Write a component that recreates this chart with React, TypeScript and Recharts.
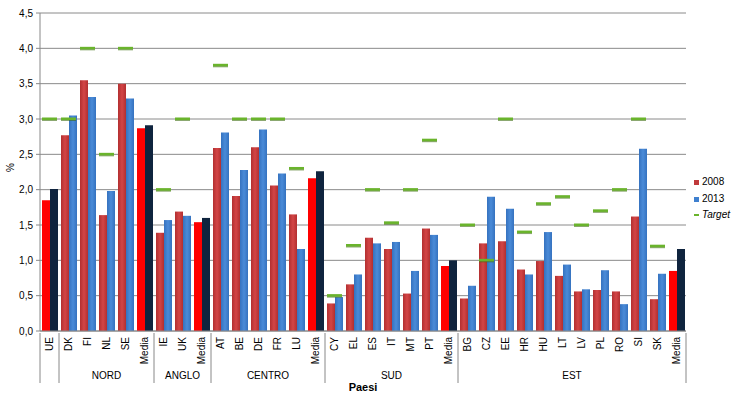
import React from 'react';
import { ComposedChart, Bar, Line, XAxis, YAxis, CartesianGrid, Cell } from 'recharts';

const categories = ['UE', 'DK', 'FI', 'NL', 'SE', 'Media', 'IE', 'UK', 'Media', 'AT', 'BE', 'DE', 'FR', 'LU', 'Media', 'CY', 'EL', 'ES', 'IT', 'MT', 'PT', 'Media', 'BG', 'CZ', 'EE', 'HR', 'HU', 'LT', 'LV', 'PL', 'RO', 'SI', 'SK', 'Media'];
const groups = ['', 'NORD', 'NORD', 'NORD', 'NORD', 'NORD', 'ANGLO', 'ANGLO', 'ANGLO', 'CENTRO', 'CENTRO', 'CENTRO', 'CENTRO', 'CENTRO', 'CENTRO', 'SUD', 'SUD', 'SUD', 'SUD', 'SUD', 'SUD', 'SUD', 'EST', 'EST', 'EST', 'EST', 'EST', 'EST', 'EST', 'EST', 'EST', 'EST', 'EST', 'EST'];
const values2008 = [1.85, 2.77, 3.55, 1.64, 3.50, 2.87, 1.39, 1.69, 1.54, 2.59, 1.91, 2.60, 2.06, 1.65, 2.16, 0.39, 0.66, 1.32, 1.16, 0.53, 1.45, 0.92, 0.46, 1.24, 1.27, 0.87, 0.99, 0.78, 0.56, 0.58, 0.56, 1.62, 0.45, 0.85];
const values2013 = [2.01, 3.05, 3.31, 1.98, 3.29, 2.91, 1.57, 1.63, 1.60, 2.81, 2.28, 2.85, 2.23, 1.16, 2.26, 0.48, 0.80, 1.24, 1.26, 0.85, 1.36, 1.00, 0.64, 1.90, 1.73, 0.80, 1.40, 0.94, 0.59, 0.86, 0.38, 2.58, 0.81, 1.16];
const targets = [3.0, 3.0, 4.0, 2.5, 4.0, null, 2.0, 3.0, null, 3.76, 3.0, 3.0, 3.0, 2.3, null, 0.5, 1.21, 2.0, 1.53, 2.0, 2.7, null, 1.5, 1.0, 3.0, 1.4, 1.8, 1.9, 1.5, 1.7, 2.0, 3.0, 1.2, null];
const yTicks = [0, 0.5, 1, 1.5, 2, 2.5, 3, 3.5, 4, 4.5];

const data = categories.map((c, i) => ({
  name: c,
  group: groups[i],
  v2008: values2008[i],
  v2013: values2013[i],
  target: targets[i],
}));

const W = 738;
const H = 398;
const margin = { top: 13, right: 52, bottom: 0, left: 0 };
const X_H = 67;
const Y_W = 40;
const PLOT_W = W - margin.left - margin.right - Y_W;
const BAND = PLOT_W / categories.length;
const FONT = '"Liberation Sans", Arial, sans-serif';

const isAggregate = (i: number) => categories[i] === 'Media' || categories[i] === 'UE';

const XTick = (props: any) => {
  const { x, y, payload } = props;
  const i = payload.index;
  const axisY = y;
  const left = x - BAND / 2;
  const first = i === 0 || groups[i] !== groups[i - 1];
  let size = 0;
  if (first) {
    let j = i;
    while (j < groups.length && groups[j] === groups[i]) j++;
    size = j - i;
  }
  return (
    <g>
      <text
        transform={`translate(${x + 3.5},${axisY + 4}) rotate(-90)`}
        textAnchor="end"
        fontSize={10}
        fontFamily={FONT}
        fill="#000"
      >
        {payload.value}
      </text>
      {first && <line x1={left} x2={left} y1={axisY} y2={axisY + 50} stroke="#888" />}
      {i === categories.length - 1 && (
        <line x1={left + BAND} x2={left + BAND} y1={axisY} y2={axisY + 50} stroke="#888" />
      )}
      {first && groups[i] && (
        <text x={left + (size * BAND) / 2} y={axisY + 46} textAnchor="middle" fontSize={10} fontFamily={FONT} fill="#000">
          {groups[i]}
        </text>
      )}
    </g>
  );
};

const TargetDot = (props: any) => {
  const { cx, cy, value } = props;
  if (value == null || cy == null) return <g />;
  return (
    <g>
      <rect x={cx - 7.5} y={cy - 1} width={15} height={3} fill="#3d6e10" opacity={0.6} />
      <rect x={cx - 7.5} y={cy - 1.5} width={15} height={2.5} fill="#6ab42c" />
    </g>
  );
};

export default function App() {
  return (
    <div style={{ position: 'absolute', left: 0, top: 0, width: W, height: H, background: '#fff', fontFamily: FONT }}>
      <ComposedChart width={W} height={H} data={data} margin={margin} barGap={0} barCategoryGap={2}>
        <defs>
          <linearGradient id="red08" x1="0" y1="0" x2="1" y2="0">
            <stop offset="0%" stopColor="#b22f30" />
            <stop offset="50%" stopColor="#d34546" />
            <stop offset="100%" stopColor="#b22f30" />
          </linearGradient>
          <linearGradient id="blue13" x1="0" y1="0" x2="1" y2="0">
            <stop offset="0%" stopColor="#3572bf" />
            <stop offset="50%" stopColor="#4a8bd8" />
            <stop offset="100%" stopColor="#3572bf" />
          </linearGradient>
        </defs>
        <CartesianGrid vertical={false} stroke="#8a8a8a" />
        <XAxis
          dataKey="name"
          interval={0}
          height={X_H}
          tick={<XTick />}
          tickLine={false}
          tickSize={0}
          axisLine={{ stroke: '#888' }}
        />
        <YAxis
          width={Y_W}
          domain={[0, 4.5]}
          ticks={yTicks}
          interval={0}
          tickFormatter={(v: number) => v.toFixed(1).replace('.', ',')}
          tick={{ fontSize: 10, fill: '#000', fontFamily: FONT }}
          tickSize={4}
          tickMargin={3}
          tickLine={{ stroke: '#888' }}
          axisLine={{ stroke: '#888' }}
          label={{ value: '%', angle: -90, position: 'insideLeft', offset: 10, fontSize: 10, fill: '#000', fontFamily: FONT }}
        />
        <Bar dataKey="v2008" barSize={8} isAnimationActive={false}>
          {data.map((d, i) => (
            <Cell key={`a${i}`} fill={isAggregate(i) ? '#ff0000' : 'url(#red08)'} />
          ))}
        </Bar>
        <Bar dataKey="v2013" barSize={8} isAnimationActive={false}>
          {data.map((d, i) => (
            <Cell key={`b${i}`} fill={isAggregate(i) ? '#0f243e' : 'url(#blue13)'} />
          ))}
        </Bar>
        <Line dataKey="target" stroke="none" dot={<TargetDot />} activeDot={false} isAnimationActive={false} />
      </ComposedChart>
      <div style={{ position: 'absolute', left: 363 - 40, width: 80, top: 381, textAlign: 'center', fontSize: 11, fontWeight: 'bold' }}>
        Paesi
      </div>
      <div style={{ position: 'absolute', left: 694, top: 174, fontSize: 10, lineHeight: '16.5px', color: '#000' }}>
        <div><span style={{ display: 'inline-block', width: 5, height: 5, background: '#c0393b', marginRight: 3 }} />2008</div>
        <div><span style={{ display: 'inline-block', width: 5, height: 5, background: '#3f80cf', marginRight: 3 }} />2013</div>
        <div><span style={{ display: 'inline-block', width: 5, height: 2, background: '#6ab42c', marginRight: 3, verticalAlign: 'middle' }} /><i>Target</i></div>
      </div>
    </div>
  );
}
